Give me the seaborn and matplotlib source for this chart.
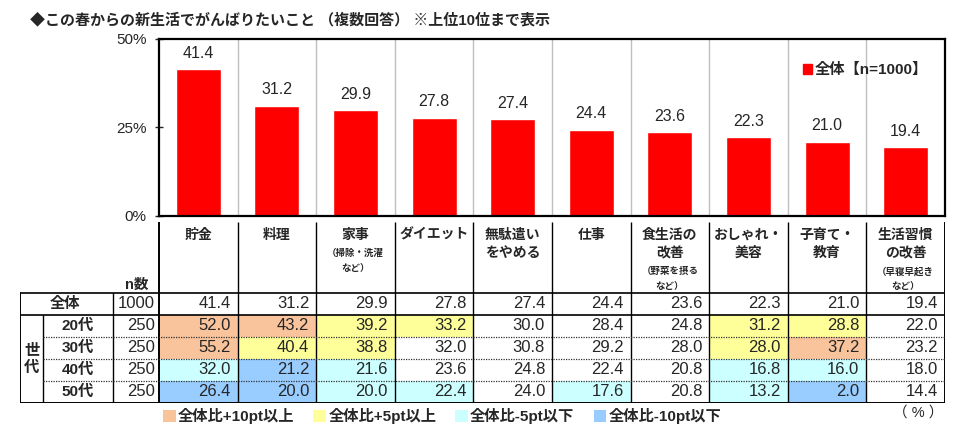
import numpy as np
import pandas as pd
import matplotlib
matplotlib.use("Agg")
import matplotlib.pyplot as plt
from matplotlib.patches import Rectangle, Patch
import seaborn as sns

# ---------------- data ----------------
categories = ["貯金", "料理", "家事", "ダイエット", "無駄遣いをやめる", "仕事",
              "食生活の改善", "おしゃれ・美容", "子育て・教育", "生活習慣の改善"]
header_main = [["貯金"], ["料理"], ["家事"], ["ダイエット"], ["無駄遣い", "をやめる"],
               ["仕事"], ["食生活の", "改善"], ["おしゃれ・", "美容"], ["子育て・", "教育"],
               ["生活習慣", "の改善"]]
header_sub = [[], [], ["（掃除・洗濯", "など）"], [], [], [], ["（野菜を摂る", "など）"],
              [], [], ["（早寝早起き", "など）"]]
overall = [41.4, 31.2, 29.9, 27.8, 27.4, 24.4, 23.6, 22.3, 21.0, 19.4]
n_overall = 1000
age_groups = ["20代", "30代", "40代", "50代"]
n_age = [250, 250, 250, 250]
age_20 = [52.0, 43.2, 39.2, 33.2, 30.0, 28.4, 24.8, 31.2, 28.8, 22.0]
age_30 = [55.2, 40.4, 38.8, 32.0, 30.8, 29.2, 28.0, 28.0, 37.2, 23.2]
age_40 = [32.0, 21.2, 21.6, 23.6, 24.8, 22.4, 20.8, 16.8, 16.0, 18.0]
age_50 = [26.4, 20.0, 20.0, 22.4, 24.0, 17.6, 20.8, 13.2, 2.0, 14.4]
# highlight level: 2 = +10pt, 1 = +5pt, -1 = -5pt, -2 = -10pt
levels_20 = [2, 2, 1, 1, 0, 0, 0, 1, 1, 0]
levels_30 = [2, 1, 1, 0, 0, 0, 0, 1, 2, 0]
levels_40 = [-1, -2, -1, 0, 0, 0, 0, -1, -1, 0]
levels_50 = [-2, -2, -1, -1, 0, -1, 0, -1, -2, 0]
legend_labels = ["全体比+10pt以上", "全体比+5pt以上", "全体比-5pt以下", "全体比-10pt以下"]
legend_levels = [2, 1, -1, -2]
yticks = [0, 25, 50]
ytick_labels = ["0%", "25%", "50%"]

age_values = [age_20, age_30, age_40, age_50]
age_levels = [levels_20, levels_30, levels_40, levels_50]
level_colors = {2: "#F9C39B", 1: "#FFFF99", -1: "#CCFFFF", -2: "#99CCFF"}
RED = "#FF0000"

# ---------------- style ----------------
sns.set_style("white")
plt.rcParams["font.family"] = ["Liberation Sans", "Noto Sans CJK JP", "DejaVu Sans"]

W, H = 977, 437
fig = plt.figure(figsize=(W / 100, H / 100), dpi=100)

# ---------------- bar chart ----------------
L, R, T, B = 159, 945, 39, 216
ax = fig.add_axes([L / W, 1 - B / H, (R - L) / W, (B - T) / H])
df = pd.DataFrame({"item": categories, "value": overall})
sns.barplot(data=df, x="item", y="value", ax=ax, color=RED, saturation=1,
            width=0.57, order=categories)
ax.bar_label(ax.containers[0], fmt="%.1f", padding=6, fontsize=11.5)
ax.set_xlim(-0.5, len(categories) - 0.5)
ax.set_ylim(0, 50)
ax.set_yticks(yticks)
ax.set_yticklabels(ytick_labels, fontsize=11)
ax.set_xticks([])
ax.set_xlabel("")
ax.set_ylabel("")
ax.tick_params(axis="y", direction="inout", length=6, width=1, pad=6, left=True)
for i in range(len(categories) - 1):
    ax.axvline(i + 0.5, color="#BFBFBF", lw=1, zorder=0)
for s in ax.spines.values():
    s.set_visible(True)
    s.set_color("black")
    s.set_linewidth(1.6)
leg = ax.legend(handles=[Patch(facecolor=RED, edgecolor=RED)],
                labels=[f"全体【n={n_overall}】"], loc="center right",
                bbox_to_anchor=((928 - L) / (R - L), 1 - 31 / (B - T)),
                frameon=False, handlelength=0.6, handleheight=0.6,
                handletextpad=0.2, borderpad=0, borderaxespad=0,
                prop={"weight": "bold", "size": 11})

# ---------------- table ----------------
colw = (R - L) / len(categories)
TL, TT, TB = 20, 222, 403
rowh = 22.0
x_left = -0.5 - (L - TL) / colw
y_top = -(293 - TT) / rowh
tax = fig.add_axes([TL / W, 1 - TB / H, (R - TL) / W, (TB - TT) / H])
tax.set_xlim(x_left, len(categories) - 0.5)
tax.set_ylim(5, y_top)
tax.axis("off")

def px2x(px):
    return (px - L) / colw - 0.5

x_nline = px2x(113)
x_sedai = px2x(43)
nrows = 1 + len(age_groups)

# fills
for r, (vals, levs) in enumerate(zip(age_values, age_levels)):
    for j, lv in enumerate(levs):
        if lv != 0:
            tax.add_patch(Rectangle((j - 0.5, r + 1), 1, 1, facecolor=level_colors[lv],
                                    edgecolor="none", zorder=1))

# lines
lc = "black"
for k in range(len(categories) + 1):
    lw = 1.4 if k in (0, len(categories)) else 1.0
    tax.plot([k - 0.5, k - 0.5], [y_top, nrows], color=lc, lw=lw, zorder=3,
             solid_capstyle="butt")
tax.plot([x_nline, x_nline], [0, nrows], color=lc, lw=1.0, zorder=3)
tax.plot([x_left, x_left], [0, nrows], color=lc, lw=1.4, zorder=3)
tax.plot([x_sedai, x_sedai], [1, nrows], color=lc, lw=1.0, zorder=3)
for yy in (0, 1):
    tax.plot([x_left, len(categories) - 0.5], [yy, yy], color=lc, lw=1.2, zorder=3)
tax.plot([x_left, len(categories) - 0.5], [nrows, nrows], color=lc, lw=1.4, zorder=3)
for yy in range(2, nrows):
    tax.plot([x_sedai, len(categories) - 0.5], [yy, yy], color="#333333", lw=0.9,
             ls=(0, (1, 1)), zorder=3)

# header text
for j, (mains, subs) in enumerate(zip(header_main, header_sub)):
    y = -2.64
    for line in mains:
        tax.text(j, y, line, ha="center", va="center", fontsize=10, weight="bold")
        y += 0.82
    y += 0.02
    for line in subs:
        tax.text(j, y, line, ha="center", va="center", fontsize=6.8, weight="bold")
        y += 0.68
tax.text(px2x(136.5), -0.36, "n数", ha="center", va="center", fontsize=10.5, weight="bold")

# overall row
tax.text(px2x(65), 0.5, "全体", ha="center", va="center", fontsize=11, weight="bold")
tax.text(px2x(155), 0.5, str(n_overall), ha="right", va="center", fontsize=12)
pad = 7 / colw
for j, v in enumerate(overall):
    tax.text(j + 0.5 - pad, 0.5, f"{v:.1f}", ha="right", va="center", fontsize=12)

# age rows
for r, (g, n, vals) in enumerate(zip(age_groups, n_age, age_values)):
    yy = r + 1.5
    tax.text(px2x(78), yy, g, ha="center", va="center", fontsize=11, weight="bold")
    tax.text(px2x(155), yy, str(n), ha="right", va="center", fontsize=12)
    for j, v in enumerate(vals):
        tax.text(j + 0.5 - pad, yy, f"{v:.1f}", ha="right", va="center", fontsize=12,
                 zorder=4)
tax.text(px2x(32), 2.62, "世", ha="center", va="center", fontsize=11, weight="bold")
tax.text(px2x(32), 3.42, "代", ha="center", va="center", fontsize=11, weight="bold")

# bottom legend
handles = [Patch(facecolor=level_colors[lv], edgecolor="none") for lv in legend_levels]
fig.legend(handles=handles, labels=legend_labels, ncol=4, loc="center left",
           bbox_to_anchor=(163 / W, 1 - 416 / H), frameon=False,
           handlelength=0.85, handleheight=0.8, handletextpad=0.12,
           columnspacing=1.25, borderpad=0, borderaxespad=0,
           prop={"weight": "bold", "size": 11})
fig.text(943 / W, 1 - 413 / H, "（ % ）", ha="right", va="center", fontsize=10.5)

# title
fig.text(30 / W, 1 - 20 / H, "◆この春からの新生活でがんばりたいこと （複数回答） ※上位10位まで表示",
         ha="left", va="center", fontsize=10.8, weight="bold")

fig.savefig("out.png", dpi=100)
